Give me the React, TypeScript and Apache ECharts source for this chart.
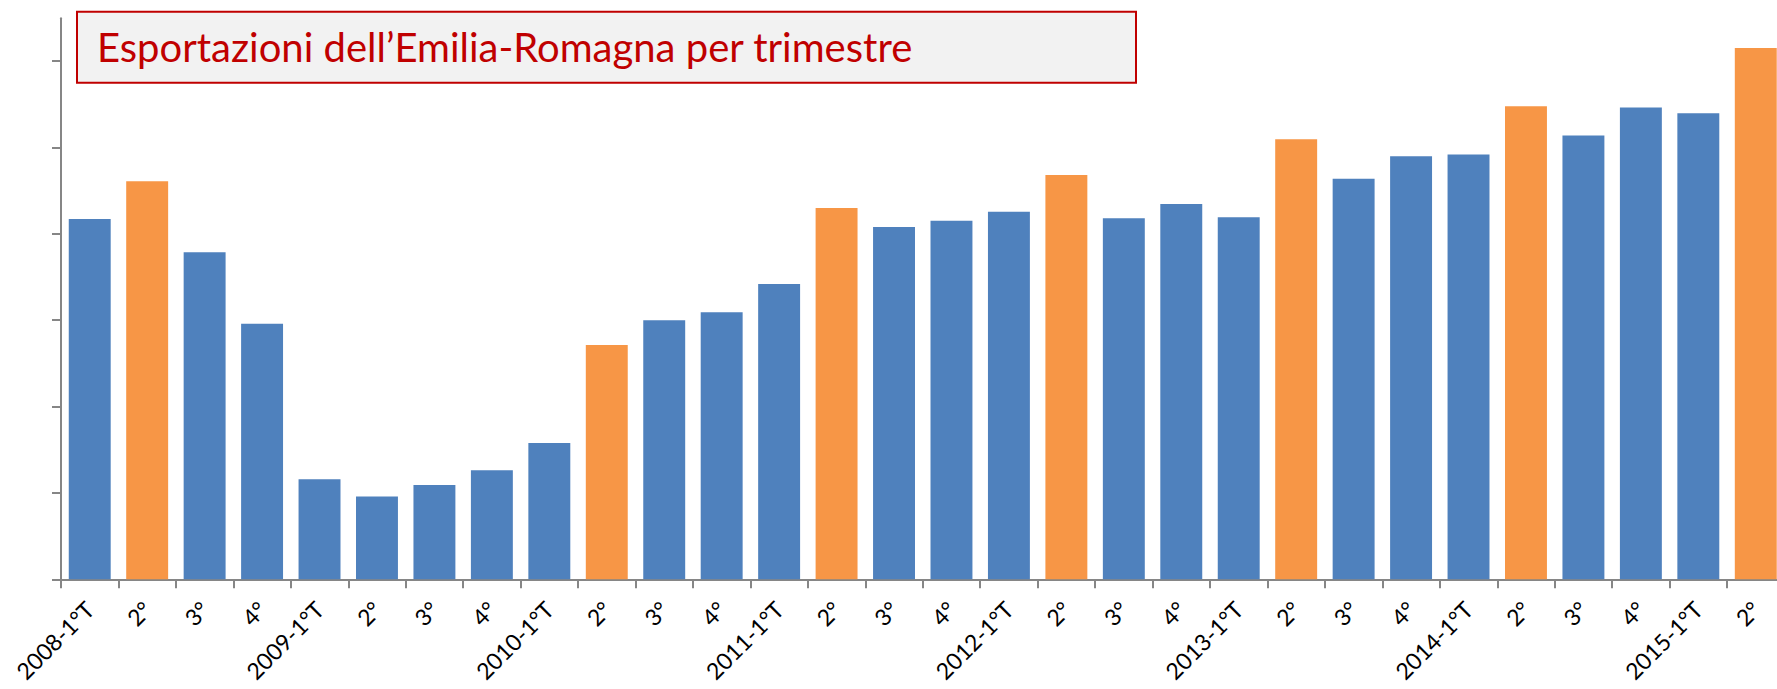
import React, { useEffect, useRef } from "react";
import * as echarts from "echarts";

const categories = [
  "2008-1°T", "2°", "3°", "4°",
  "2009-1°T", "2°", "3°", "4°",
  "2010-1°T", "2°", "3°", "4°",
  "2011-1°T", "2°", "3°", "4°",
  "2012-1°T", "2°", "3°", "4°",
  "2013-1°T", "2°", "3°", "4°",
  "2014-1°T", "2°", "3°", "4°",
  "2015-1°T", "2°",
];

const exportValues = [
  11171, 11608, 10786, 9959,
  8158, 7960, 8092, 8262,
  8577, 9712, 9998, 10091,
  10419, 11298, 11079, 11151,
  11256, 11681, 11179, 11345,
  11191, 12095, 11636, 11898,
  11918, 12477, 12138, 12462,
  12396, 13151,
];

// quarters drawn in orange
const highlighted = [
  false, true, false, false,
  false, false, false, false,
  false, true, false, false,
  false, true, false, false,
  false, true, false, false,
  false, true, false, false,
  false, true, false, false,
  false, true,
];

const yTicks = [7000, 8000, 9000, 10000, 11000, 12000, 13000];
const yMin = 7000;
const yMax = 13495;

const titleText = "Esportazioni dell’Emilia-Romagna per trimestre";

const BLUE = "#4F81BD";
const ORANGE = "#F79646";
const AXIS = "#868686";

export default function App() {
  const ref = useRef<HTMLDivElement>(null);

  useEffect(() => {
    if (!ref.current) return;
    const chart = echarts.init(ref.current, null, { renderer: "svg" });
    chart.setOption({
      animation: false,
      backgroundColor: "#ffffff",
      grid: {
        left: 61,
        top: 18.3,
        width: 1723.5,
        height: 561,
        containLabel: false,
        outerBoundsMode: "none",
      },
      xAxis: {
        type: "category",
        data: categories,
        boundaryGap: true,
        axisLine: { show: true, lineStyle: { color: AXIS, width: 2 } },
        axisTick: { show: true, interval: 0, length: 9, alignWithLabel: false, lineStyle: { color: AXIS, width: 2 } },
        axisLabel: {
          interval: 0,
          rotate: 45,
          margin: 26,
          color: "#000000",
          fontFamily: "Lato",
          fontSize: 23,
          lineHeight: 23,
          hideOverlap: false,
        },
        splitLine: { show: false },
      },
      yAxis: {
        type: "value",
        min: yMin,
        max: yMax,
        interval: 1000,
        axisLine: { show: true, lineStyle: { color: AXIS, width: 2 } },
        axisTick: { show: true, length: 9, customValues: yTicks, lineStyle: { color: AXIS, width: 2 } },
        axisLabel: { show: false },
        splitLine: { show: false },
      },
      series: [
        {
          type: "bar",
          data: exportValues,
          barCategoryGap: "27%",
          itemStyle: {
            color: (p: any) => (highlighted[p.dataIndex] ? ORANGE : BLUE),
          },
        },
      ],
      graphic: [
        {
          type: "rect",
          shape: { x: 77, y: 11.7, width: 1059, height: 71 },
          style: { fill: "#F2F2F2", stroke: "#C00000", lineWidth: 2 },
          z: 10,
        },
        {
          type: "text",
          x: 97,
          y: 47,
          style: {
            text: titleText,
            fill: "#C00000",
            font: "40px Lato",
            verticalAlign: "middle",
            align: "left",
          },
          z: 11,
        },
      ],
    });
    return () => chart.dispose();
  }, []);

  return (
    <div style={{ position: "fixed", left: 0, top: 0, width: 1777, height: 689, overflow: "hidden", background: "#fff" }}>
      <div ref={ref} style={{ width: 1800, height: 689 }} />
    </div>
  );
}
